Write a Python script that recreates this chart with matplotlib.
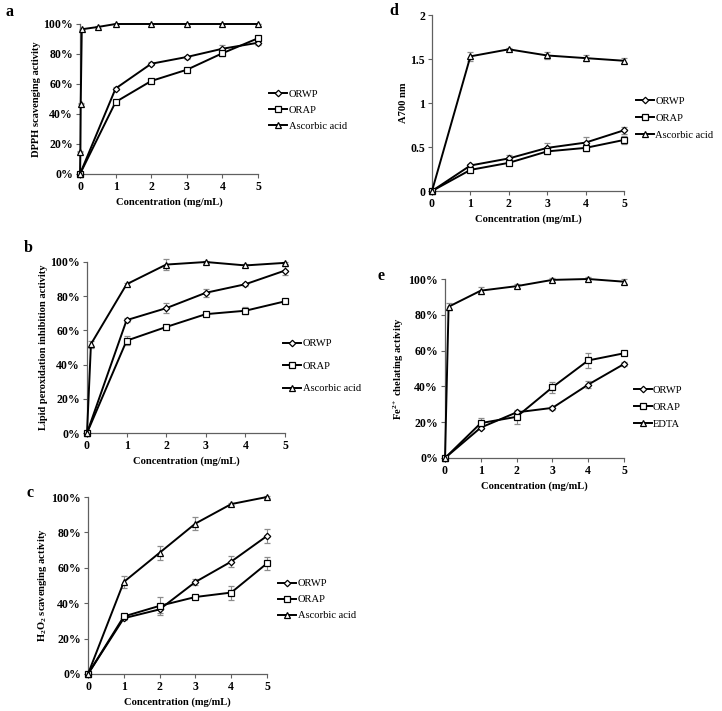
import matplotlib
matplotlib.use("Agg")
import matplotlib.pyplot as plt
from matplotlib.ticker import FuncFormatter
from matplotlib.lines import Line2D

plt.rcParams['font.family'] = ['Liberation Serif', 'DejaVu Serif']
plt.rcParams['mathtext.fontset'] = 'custom'
plt.rcParams['mathtext.rm'] = 'Liberation Serif:bold'
plt.rcParams['mathtext.it'] = 'Liberation Serif:bold:italic'
plt.rcParams['mathtext.bf'] = 'Liberation Serif:bold'
plt.rcParams['mathtext.default'] = 'rm'

# ---------------- data ----------------
conc = [0, 1, 2, 3, 4, 5]

# a: DPPH
a_orwp = [0, 57, 73.5, 78, 83.5, 87.5]
a_orwp_err = [0, 1.0, 1.0, 1.0, 2.5, 1.5]
a_orap = [0, 48, 62, 69.5, 80.5, 90.5]
a_orap_err = [0, 1.0, 1.0, 1.0, 1.5, 1.0]
a_aa_x = [0, 0.01, 0.02, 0.05, 0.5, 1, 2, 3, 4, 5]
a_aa = [0, 15, 47, 96.5, 98, 100, 100, 100, 100, 100]
a_aa_err = [0, 0.5, 0.5, 0.5, 0.5, 0.3, 0.3, 0.3, 0.3, 0.3]

# b: lipid peroxidation
b_orwp = [0, 66, 73, 82, 87, 95]
b_orwp_err = [0, 1.0, 3.0, 2.5, 1.0, 2.5]
b_orap = [0, 54, 62, 69.5, 71.5, 77]
b_orap_err = [0, 2.5, 1.0, 1.0, 2.0, 1.0]
b_aa_x = [0, 0.1, 1, 2, 3, 4, 5]
b_aa = [0, 52, 87, 98.5, 100, 98, 99.5]
b_aa_err = [0, 2.0, 1.0, 3.0, 0.5, 1.0, 0.5]

# c: H2O2
c_orwp = [0, 31.5, 36.5, 52, 63.5, 78]
c_orwp_err = [0, 1.0, 2.0, 1.5, 3.0, 4.0]
c_orap = [0, 32.5, 38.5, 43.5, 46, 62.5]
c_orap_err = [0, 1.0, 5.0, 1.0, 4.0, 3.5]
c_aa = [0, 52, 68.5, 85, 96, 100]
c_aa_err = [0, 3.5, 4.0, 3.5, 0.5, 0.3]

# d: reducing power
d_orwp = [0, 0.29, 0.37, 0.49, 0.55, 0.69]
d_orwp_err = [0, 0.02, 0.04, 0.05, 0.06, 0.04]
d_orap = [0, 0.24, 0.32, 0.45, 0.49, 0.58]
d_orap_err = [0, 0.02, 0.03, 0.03, 0.03, 0.05]
d_aa = [0, 1.53, 1.61, 1.54, 1.51, 1.48]
d_aa_err = [0, 0.05, 0.02, 0.04, 0.03, 0.03]

# e: Fe2+ chelating
e_orwp = [0, 17, 25.5, 28, 41, 52.5]
e_orwp_err = [0, 1.0, 1.0, 1.0, 2.0, 1.0]
e_orap = [0, 19.5, 23, 39.5, 54.5, 58.5]
e_orap_err = [0, 3.0, 4.0, 3.0, 4.0, 1.0]
e_edta_x = [0, 0.1, 1, 2, 3, 4, 5]
e_edta = [0, 84.5, 93.5, 96, 99.5, 100, 98.5]
e_edta_err = [0, 2.0, 2.0, 1.0, 1.0, 1.0, 1.5]

W, H = 722, 711
fig = plt.figure(figsize=(W / 100, H / 100), dpi=100)

MS = {'D': 3.3, 's': 5.0, '^': 3.8}

def add_ax(l, r, t, b):
    return fig.add_axes([l / W, 1 - b / H, (r - l) / W, (b - t) / H])

pct = FuncFormatter(lambda v, p: f"{v:.0f}%")

def style(ax, ylabel, ymax, yticks, percent=True):
    ax.set_xlim(0, 5)
    ax.set_ylim(0, ymax)
    ax.set_xticks(range(6))
    ax.set_yticks(yticks)
    if percent:
        ax.yaxis.set_major_formatter(pct)
    else:
        ax.set_yticklabels([f"{v:g}" for v in yticks])
    for s in ['top', 'right']:
        ax.spines[s].set_visible(False)
    for s in ['left', 'bottom']:
        ax.spines[s].set_color('#606060')
        ax.spines[s].set_linewidth(0.9)
    ax.tick_params(direction='out', length=3, width=0.8, color='#606060',
                   labelsize=8.5, pad=2)
    for lab in ax.get_xticklabels() + ax.get_yticklabels():
        lab.set_fontweight('bold')
    ax.set_xlabel('Concentration (mg/mL)', fontsize=7.6, fontweight='bold', labelpad=3)
    ax.set_ylabel(ylabel, fontsize=7.6, fontweight='bold', labelpad=1.5)

def series(ax, x, y, err, marker, label):
    ax.errorbar(x, y, yerr=err, color='black', lw=1.4, marker=marker, ms=MS[marker],
                mfc='white', mec='black', mew=0.9, ecolor='0.55', elinewidth=0.8,
                capsize=2, capthick=0.8, label=label, clip_on=False, zorder=3)

def legend(ax, x, y, labels, spacing):
    handles = [Line2D([], [], color='black', lw=1.4, marker=m, ms=MS[m],
                      mfc='white', mec='black', mew=0.9)
               for m in ['D', 's', '^']]
    ax.legend(handles, labels, loc='upper left', bbox_to_anchor=(x, y), frameon=False,
              fontsize=7.6, handlelength=1.7, handletextpad=0.15,
              labelspacing=spacing, borderaxespad=0)

def panel_label(x, y, s):
    fig.text(x / W, 1 - y / H, s, fontsize=11.5, fontweight='bold', va='top', ha='left')

std = ['ORWP', 'ORAP', 'Ascorbic acid']

# ---- a ----
ax = add_ax(80, 258, 24, 174)
series(ax, conc, a_orwp, a_orwp_err, 'D', 'ORWP')
series(ax, conc, a_orap, a_orap_err, 's', 'ORAP')
series(ax, a_aa_x, a_aa, a_aa_err, '^', 'Ascorbic acid')
style(ax, 'DPPH scavenging activity', 100, [0, 20, 40, 60, 80, 100])
legend(ax, 1.04, 0.59, std, 0.6)
panel_label(6, 4, 'a')

# ---- b ----
ax = add_ax(87, 285, 262, 433)
series(ax, conc, b_orwp, b_orwp_err, 'D', 'ORWP')
series(ax, conc, b_orap, b_orap_err, 's', 'ORAP')
series(ax, b_aa_x, b_aa, b_aa_err, '^', 'Ascorbic acid')
style(ax, 'Lipid peroxidation inhibition activity', 100, [0, 20, 40, 60, 80, 100])
legend(ax, 0.97, 0.575, std, 1.25)
panel_label(24, 240, 'b')

# ---- c ----
ax = add_ax(88, 267, 497, 674)
series(ax, conc, c_orwp, c_orwp_err, 'D', 'ORWP')
series(ax, conc, c_orap, c_orap_err, 's', 'ORAP')
series(ax, conc, c_aa, c_aa_err, '^', 'Ascorbic acid')
style(ax, 'H$_2$O$_2$ scavenging activity', 100, [0, 20, 40, 60, 80, 100])
legend(ax, 1.04, 0.56, std, 0.62)
panel_label(26, 485, 'c')

# ---- d ----
ax = add_ax(432, 624, 15, 191)
series(ax, conc, d_orwp, d_orwp_err, 'D', 'ORWP')
series(ax, conc, d_orap, d_orap_err, 's', 'ORAP')
series(ax, conc, d_aa, d_aa_err, '^', 'Ascorbic acid')
style(ax, 'A700 nm', 2, [0, 0.5, 1, 1.5, 2], percent=False)
legend(ax, 1.04, 0.56, std, 0.72)
panel_label(389, 3, 'd')

# ---- e ----
ax = add_ax(445, 624, 279, 458)
series(ax, conc, e_orwp, e_orwp_err, 'D', 'ORWP')
series(ax, conc, e_orap, e_orap_err, 's', 'ORAP')
series(ax, e_edta_x, e_edta, e_edta_err, '^', 'EDTA')
style(ax, 'Fe$^{2+}$ chelating activity', 100, [0, 20, 40, 60, 80, 100])
legend(ax, 1.03, 0.43, ['ORWP', 'ORAP', 'EDTA'], 0.72)
panel_label(377, 268, 'e')

fig.savefig('out.png', dpi=100, facecolor='white')
